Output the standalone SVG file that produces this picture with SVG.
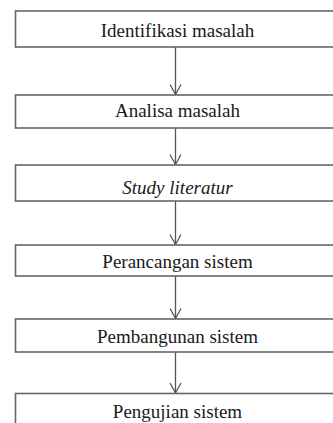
<svg xmlns="http://www.w3.org/2000/svg" width="333" height="423" viewBox="0 0 333 423">
<style>
.box{fill:#fff;stroke:#666;stroke-width:1.6}
.lbl{font-size:19px;fill:#1a1a1a;text-anchor:middle}
.it{font-style:italic}
.conn{stroke:#555;stroke-width:1.3;fill:none}
</style>
<defs>
<marker id="ah" markerUnits="userSpaceOnUse" markerWidth="14" markerHeight="14" viewBox="-12 -7 14 14" refX="0" refY="0" orient="auto">
<path d="M-10,-5.5 L0,0 L-10,5.5" fill="none" stroke="#555" stroke-width="1.3"/>
</marker>
</defs>
<rect width="333" height="423" fill="#fff"/>
<g id="connectors">
<line class="conn" x1="175.5" y1="47" x2="175.5" y2="94.5" marker-end="url(#ah)"/>
<line class="conn" x1="175.5" y1="128" x2="175.5" y2="164.5" marker-end="url(#ah)"/>
<line class="conn" x1="175.5" y1="201" x2="175.5" y2="244.5" marker-end="url(#ah)"/>
<line class="conn" x1="175.5" y1="276" x2="175.5" y2="318.5" marker-end="url(#ah)"/>
<line class="conn" x1="175.5" y1="352" x2="175.5" y2="393" marker-end="url(#ah)"/>
</g>
<g font-family="'Liberation Serif', 'Times New Roman', Times, serif">
<g id="n1"><rect class="box" x="15.5" y="11" width="330" height="36"/><text class="lbl" x="177.5" y="37">Identifikasi masalah</text></g>
<g id="n2"><rect class="box" x="15.5" y="95" width="330" height="33"/><text class="lbl" x="177.5" y="117">Analisa masalah</text></g>
<g id="n3"><rect class="box" x="15.5" y="165" width="330" height="36"/><text class="lbl it" x="177.5" y="194">Study literatur</text></g>
<g id="n4"><rect class="box" x="15.5" y="245" width="330" height="31"/><text class="lbl" x="177.5" y="268">Perancangan sistem</text></g>
<g id="n5"><rect class="box" x="15.5" y="319" width="330" height="33"/><text class="lbl" x="177.5" y="343">Pembangunan sistem</text></g>
<g id="n6"><rect class="box" x="15.5" y="393.5" width="330" height="40"/><text class="lbl" x="177.5" y="418">Pengujian sistem</text></g>
</g>
</svg>
